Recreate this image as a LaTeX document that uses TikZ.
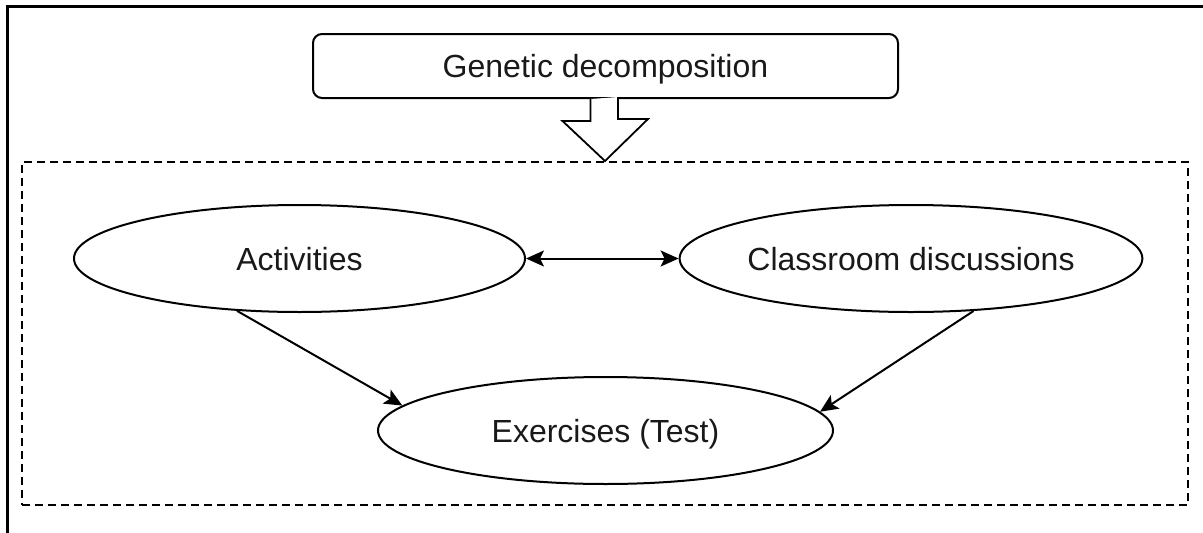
\documentclass[tikz,border=0pt]{standalone}
\usepackage{fontspec}
\setmainfont{Liberation Sans}
\usetikzlibrary{shapes.geometric,arrows.meta}
\begin{document}
\begin{tikzpicture}[x=1pt,y=-1pt,
  lbl/.style={font=\fontsize{32}{38}\selectfont, text=black!90, text depth=0pt},
  ell/.style={ellipse, draw, line width=2pt, minimum width=451pt, minimum height=107pt, inner sep=0pt, lbl},
  tip/.tip={Stealth[length=18pt,width=16pt,inset=4pt]},
  conn/.style={line width=2pt, -tip},
  frame/.style={line width=3pt}
]
\useasboundingbox (0,0) rectangle (1203,533);
% outer frame (left and top edges)
\coordinate (fbl) at (7,533);
\coordinate (ftl) at (7,6);
\coordinate (ftr) at (1203,6);
\draw[frame] (fbl) -- (ftl) -- (ftr);
% dashed container
\node[draw, dash pattern=on 8pt off 5pt, line width=2pt, minimum width=1166pt, minimum height=343pt, inner sep=0pt] (box) at (605,333.5) {};
% top box
\node[draw, rounded corners=9pt, line width=2pt, minimum width=585pt, minimum height=64pt, inner sep=0pt, lbl] (gd) at (605.5,66) {Genetic decomposition};
% hollow arrow
\draw[line width=1.8pt, fill=white, line join=miter]
  ([xshift=-15pt]gd.south) -- ++(0,22) -- ++(-28,0) -- (box.north) -- ++(43,-42) -- ++(-30,0) -- ++(0,-22);
% ellipses
\node[ell] (act) at (299.5,258.5) {Activities};
\node[ell] (cls) at (911,258.5) {Classroom discussions};
\node[ell, minimum width=455pt] (ex) at (605.5,430.5) {Exercises (Test)};
% connectors
\draw[line width=2pt, tip-tip] (act.east) -- (cls.west);
\draw[conn] (act.220) -- (ex.173);
\draw[conn] (cls.320) -- (ex.5);
\end{tikzpicture}
\end{document}
